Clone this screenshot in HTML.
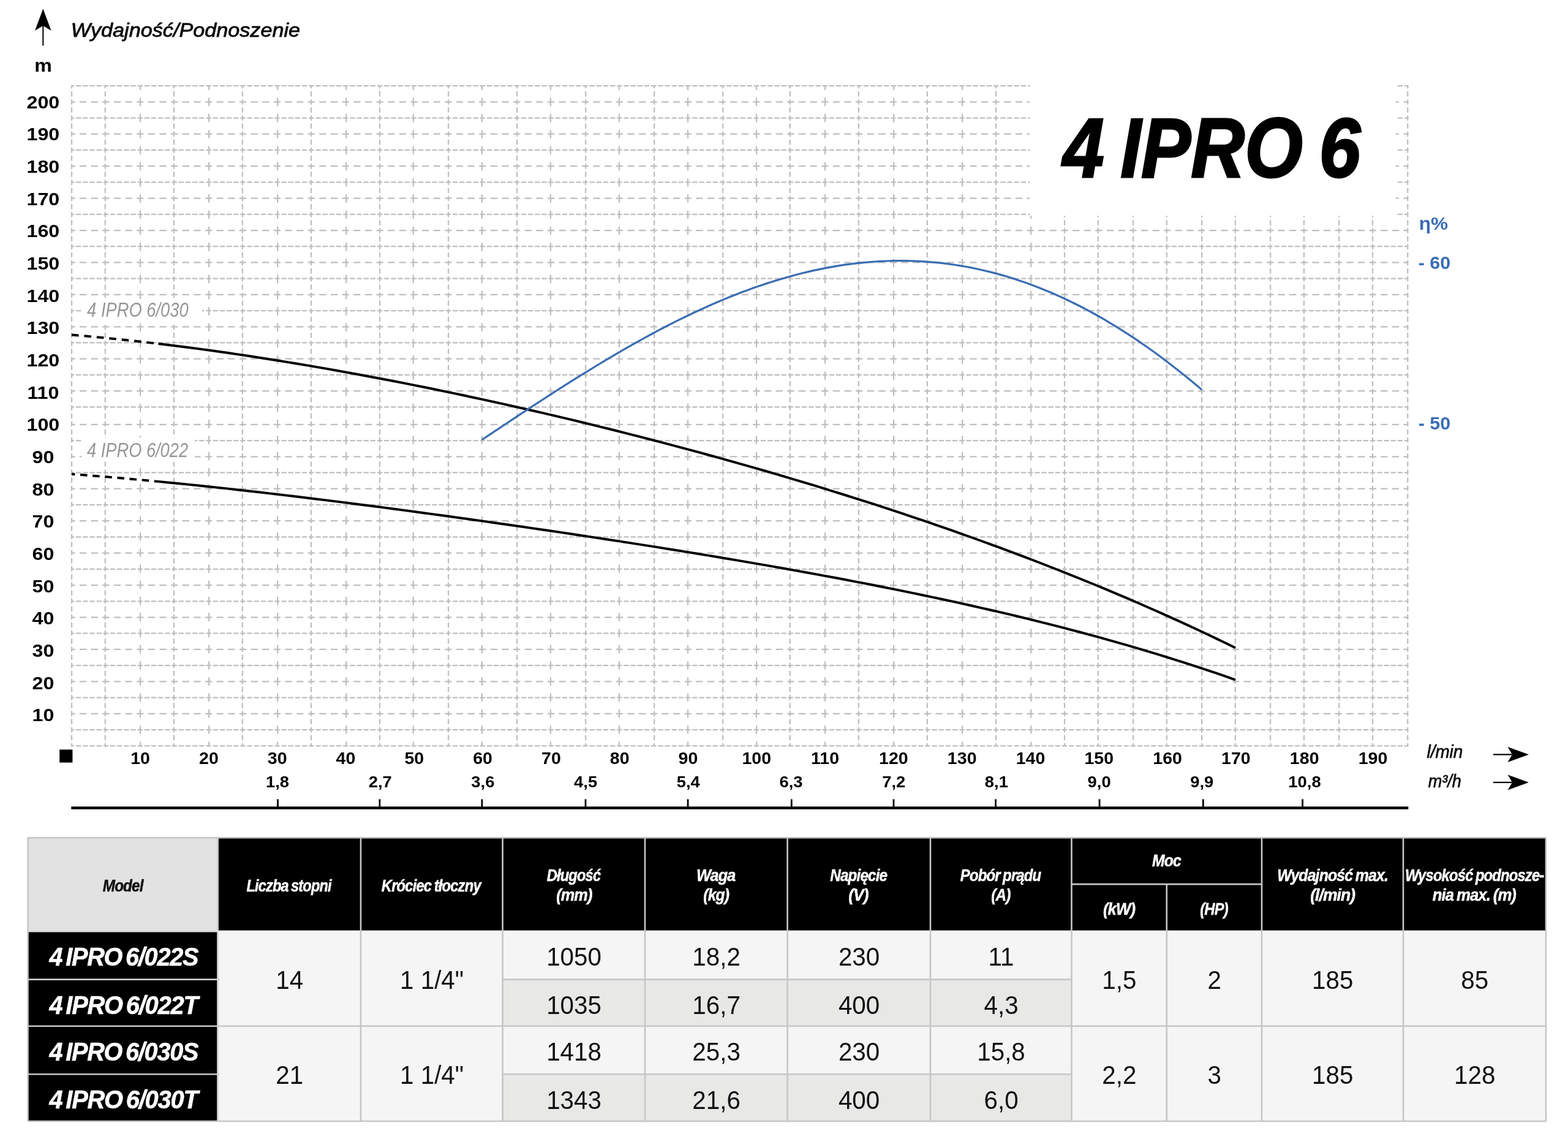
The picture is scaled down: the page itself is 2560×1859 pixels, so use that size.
<!DOCTYPE html>
<html lang="pl"><head><meta charset="utf-8"><title>4 IPRO 6</title>
<style>
html,body{margin:0;padding:0;background:#fff;}
body{width:2560px;height:1859px;overflow:hidden;}
svg{display:block;}
text{font-family:"Liberation Sans",sans-serif;white-space:pre;}
.b{font-weight:bold;} .i{font-style:italic;} .bi{font-weight:bold;font-style:italic;}
</style></head><body>
<svg width="2560" height="1859" viewBox="0 0 2560 1859">
<rect width="2560" height="1859" fill="#fff"/>
<g stroke="#bebebe" stroke-width="2.25" fill="none">
<line x1="116.03" y1="1217.30" x2="2299.27" y2="1217.30" stroke-dasharray="8.300 2.880" stroke-dashoffset="3.180"/>
<line x1="116.03" y1="1191.08" x2="2299.27" y2="1191.08" stroke-dasharray="8.300 2.880" stroke-dashoffset="3.180"/>
<line x1="116.03" y1="1164.85" x2="2299.27" y2="1164.85" stroke-dasharray="11.300 7.333" stroke-dashoffset="4.680"/>
<line x1="116.03" y1="1138.62" x2="2299.27" y2="1138.62" stroke-dasharray="8.300 2.880" stroke-dashoffset="3.180"/>
<line x1="116.03" y1="1112.40" x2="2299.27" y2="1112.40" stroke-dasharray="11.300 7.333" stroke-dashoffset="4.680"/>
<line x1="116.03" y1="1086.17" x2="2299.27" y2="1086.17" stroke-dasharray="8.300 2.880" stroke-dashoffset="3.180"/>
<line x1="116.03" y1="1059.95" x2="2299.27" y2="1059.95" stroke-dasharray="11.300 7.333" stroke-dashoffset="4.680"/>
<line x1="116.03" y1="1033.72" x2="2299.27" y2="1033.72" stroke-dasharray="8.300 2.880" stroke-dashoffset="3.180"/>
<line x1="116.03" y1="1007.50" x2="2299.27" y2="1007.50" stroke-dasharray="11.300 7.333" stroke-dashoffset="4.680"/>
<line x1="116.03" y1="981.27" x2="2299.27" y2="981.27" stroke-dasharray="8.300 2.880" stroke-dashoffset="3.180"/>
<line x1="116.03" y1="955.05" x2="2299.27" y2="955.05" stroke-dasharray="11.300 7.333" stroke-dashoffset="4.680"/>
<line x1="116.03" y1="928.82" x2="2299.27" y2="928.82" stroke-dasharray="8.300 2.880" stroke-dashoffset="3.180"/>
<line x1="116.03" y1="902.60" x2="2299.27" y2="902.60" stroke-dasharray="11.300 7.333" stroke-dashoffset="4.680"/>
<line x1="116.03" y1="876.38" x2="2299.27" y2="876.38" stroke-dasharray="8.300 2.880" stroke-dashoffset="3.180"/>
<line x1="116.03" y1="850.15" x2="2299.27" y2="850.15" stroke-dasharray="11.300 7.333" stroke-dashoffset="4.680"/>
<line x1="116.03" y1="823.92" x2="2299.27" y2="823.92" stroke-dasharray="8.300 2.880" stroke-dashoffset="3.180"/>
<line x1="116.03" y1="797.70" x2="2299.27" y2="797.70" stroke-dasharray="11.300 7.333" stroke-dashoffset="4.680"/>
<line x1="116.03" y1="771.47" x2="2299.27" y2="771.47" stroke-dasharray="8.300 2.880" stroke-dashoffset="3.180"/>
<line x1="116.03" y1="745.25" x2="2299.27" y2="745.25" stroke-dasharray="11.300 7.333" stroke-dashoffset="4.680"/>
<line x1="116.03" y1="719.02" x2="2299.27" y2="719.02" stroke-dasharray="8.300 2.880" stroke-dashoffset="3.180"/>
<line x1="116.03" y1="692.80" x2="2299.27" y2="692.80" stroke-dasharray="11.300 7.333" stroke-dashoffset="4.680"/>
<line x1="116.03" y1="664.34" x2="2299.27" y2="664.34" stroke-dasharray="8.300 2.880" stroke-dashoffset="3.180"/>
<line x1="116.03" y1="638.13" x2="2299.27" y2="638.13" stroke-dasharray="11.300 7.333" stroke-dashoffset="4.680"/>
<line x1="116.03" y1="611.92" x2="2299.27" y2="611.92" stroke-dasharray="8.300 2.880" stroke-dashoffset="3.180"/>
<line x1="116.03" y1="585.70" x2="2299.27" y2="585.70" stroke-dasharray="11.300 7.333" stroke-dashoffset="4.680"/>
<line x1="116.03" y1="559.49" x2="2299.27" y2="559.49" stroke-dasharray="8.300 2.880" stroke-dashoffset="3.180"/>
<line x1="116.03" y1="533.28" x2="2299.27" y2="533.28" stroke-dasharray="11.300 7.333" stroke-dashoffset="4.680"/>
<line x1="116.03" y1="507.07" x2="2299.27" y2="507.07" stroke-dasharray="8.300 2.880" stroke-dashoffset="3.180"/>
<line x1="116.03" y1="480.86" x2="2299.27" y2="480.86" stroke-dasharray="11.300 7.333" stroke-dashoffset="4.680"/>
<line x1="116.03" y1="454.64" x2="2299.27" y2="454.64" stroke-dasharray="8.300 2.880" stroke-dashoffset="3.180"/>
<line x1="116.03" y1="428.43" x2="2299.27" y2="428.43" stroke-dasharray="11.300 7.333" stroke-dashoffset="4.680"/>
<line x1="116.03" y1="402.22" x2="2299.27" y2="402.22" stroke-dasharray="8.300 2.880" stroke-dashoffset="3.180"/>
<line x1="116.03" y1="376.01" x2="2299.27" y2="376.01" stroke-dasharray="11.300 7.333" stroke-dashoffset="4.680"/>
<line x1="116.03" y1="349.80" x2="2299.27" y2="349.80" stroke-dasharray="8.300 2.880" stroke-dashoffset="3.180"/>
<line x1="116.03" y1="323.58" x2="2299.27" y2="323.58" stroke-dasharray="11.300 7.333" stroke-dashoffset="4.680"/>
<line x1="116.03" y1="297.37" x2="2299.27" y2="297.37" stroke-dasharray="8.300 2.880" stroke-dashoffset="3.180"/>
<line x1="116.03" y1="271.16" x2="2299.27" y2="271.16" stroke-dasharray="11.300 7.333" stroke-dashoffset="4.680"/>
<line x1="116.03" y1="244.95" x2="2299.27" y2="244.95" stroke-dasharray="8.300 2.880" stroke-dashoffset="3.180"/>
<line x1="116.03" y1="218.74" x2="2299.27" y2="218.74" stroke-dasharray="11.300 7.333" stroke-dashoffset="4.680"/>
<line x1="116.03" y1="192.52" x2="2299.27" y2="192.52" stroke-dasharray="8.300 2.880" stroke-dashoffset="3.180"/>
<line x1="116.03" y1="166.31" x2="2299.27" y2="166.31" stroke-dasharray="11.300 7.333" stroke-dashoffset="4.680"/>
<line x1="116.03" y1="140.10" x2="2299.27" y2="140.10" stroke-dasharray="8.300 2.880" stroke-dashoffset="3.180"/>
<line x1="117.03" y1="139.10" x2="117.03" y2="1218.30" stroke-dasharray="8.500 4.636" stroke-dashoffset="3.243"/>
<line x1="171.81" y1="139.10" x2="171.81" y2="1218.30" stroke-dasharray="8.500 4.636" stroke-dashoffset="3.243"/>
<line x1="229.08" y1="139.10" x2="229.08" y2="1218.30" stroke-dasharray="13.600 12.673" stroke-dashoffset="5.793"/>
<line x1="283.86" y1="139.10" x2="283.86" y2="1218.30" stroke-dasharray="8.500 4.636" stroke-dashoffset="3.243"/>
<line x1="341.13" y1="139.10" x2="341.13" y2="1218.30" stroke-dasharray="13.600 12.673" stroke-dashoffset="5.793"/>
<line x1="395.91" y1="139.10" x2="395.91" y2="1218.30" stroke-dasharray="8.500 4.636" stroke-dashoffset="3.243"/>
<line x1="453.18" y1="139.10" x2="453.18" y2="1218.30" stroke-dasharray="13.600 12.673" stroke-dashoffset="5.793"/>
<line x1="507.96" y1="139.10" x2="507.96" y2="1218.30" stroke-dasharray="8.500 4.636" stroke-dashoffset="3.243"/>
<line x1="565.23" y1="139.10" x2="565.23" y2="1218.30" stroke-dasharray="13.600 12.673" stroke-dashoffset="5.793"/>
<line x1="620.01" y1="139.10" x2="620.01" y2="1218.30" stroke-dasharray="8.500 4.636" stroke-dashoffset="3.243"/>
<line x1="674.79" y1="139.10" x2="674.79" y2="1218.30" stroke-dasharray="13.600 12.673" stroke-dashoffset="5.793"/>
<line x1="732.06" y1="139.10" x2="732.06" y2="1218.30" stroke-dasharray="8.500 4.636" stroke-dashoffset="3.243"/>
<line x1="786.84" y1="139.10" x2="786.84" y2="1218.30" stroke-dasharray="13.600 12.673" stroke-dashoffset="5.793"/>
<line x1="844.11" y1="139.10" x2="844.11" y2="1218.30" stroke-dasharray="8.500 4.636" stroke-dashoffset="3.243"/>
<line x1="898.89" y1="139.10" x2="898.89" y2="1218.30" stroke-dasharray="13.600 12.673" stroke-dashoffset="5.793"/>
<line x1="956.16" y1="139.10" x2="956.16" y2="1218.30" stroke-dasharray="8.500 4.636" stroke-dashoffset="3.243"/>
<line x1="1010.94" y1="139.10" x2="1010.94" y2="1218.30" stroke-dasharray="13.600 12.673" stroke-dashoffset="5.793"/>
<line x1="1068.21" y1="139.10" x2="1068.21" y2="1218.30" stroke-dasharray="8.500 4.636" stroke-dashoffset="3.243"/>
<line x1="1122.99" y1="139.10" x2="1122.99" y2="1218.30" stroke-dasharray="13.600 12.673" stroke-dashoffset="5.793"/>
<line x1="1180.26" y1="139.10" x2="1180.26" y2="1218.30" stroke-dasharray="8.500 4.636" stroke-dashoffset="3.243"/>
<line x1="1235.04" y1="139.10" x2="1235.04" y2="1218.30" stroke-dasharray="13.600 12.673" stroke-dashoffset="5.793"/>
<line x1="1289.82" y1="139.10" x2="1289.82" y2="1218.30" stroke-dasharray="8.500 4.636" stroke-dashoffset="3.243"/>
<line x1="1347.09" y1="139.10" x2="1347.09" y2="1218.30" stroke-dasharray="13.600 12.673" stroke-dashoffset="5.793"/>
<line x1="1401.87" y1="139.10" x2="1401.87" y2="1218.30" stroke-dasharray="8.500 4.636" stroke-dashoffset="3.243"/>
<line x1="1459.14" y1="139.10" x2="1459.14" y2="1218.30" stroke-dasharray="13.600 12.673" stroke-dashoffset="5.793"/>
<line x1="1513.92" y1="139.10" x2="1513.92" y2="1218.30" stroke-dasharray="8.500 4.636" stroke-dashoffset="3.243"/>
<line x1="1571.19" y1="139.10" x2="1571.19" y2="1218.30" stroke-dasharray="13.600 12.673" stroke-dashoffset="5.793"/>
<line x1="1625.97" y1="139.10" x2="1625.97" y2="1218.30" stroke-dasharray="8.500 4.636" stroke-dashoffset="3.243"/>
<line x1="1683.24" y1="139.10" x2="1683.24" y2="1218.30" stroke-dasharray="13.600 12.673" stroke-dashoffset="5.793"/>
<line x1="1738.02" y1="139.10" x2="1738.02" y2="1218.30" stroke-dasharray="8.500 4.636" stroke-dashoffset="3.243"/>
<line x1="1792.80" y1="139.10" x2="1792.80" y2="1218.30" stroke-dasharray="8.500 4.636" stroke-dashoffset="3.243"/>
<line x1="1850.07" y1="139.10" x2="1850.07" y2="1218.30" stroke-dasharray="8.500 4.636" stroke-dashoffset="3.243"/>
<line x1="1904.85" y1="139.10" x2="1904.85" y2="1218.30" stroke-dasharray="8.500 4.636" stroke-dashoffset="3.243"/>
<line x1="1962.12" y1="139.10" x2="1962.12" y2="1218.30" stroke-dasharray="8.500 4.636" stroke-dashoffset="3.243"/>
<line x1="2016.90" y1="139.10" x2="2016.90" y2="1218.30" stroke-dasharray="8.500 4.636" stroke-dashoffset="3.243"/>
<line x1="2074.17" y1="139.10" x2="2074.17" y2="1218.30" stroke-dasharray="8.500 4.636" stroke-dashoffset="3.243"/>
<line x1="2128.95" y1="139.10" x2="2128.95" y2="1218.30" stroke-dasharray="8.500 4.636" stroke-dashoffset="3.243"/>
<line x1="2186.22" y1="139.10" x2="2186.22" y2="1218.30" stroke-dasharray="8.500 4.636" stroke-dashoffset="3.243"/>
<line x1="2241.00" y1="139.10" x2="2241.00" y2="1218.30" stroke-dasharray="8.500 4.636" stroke-dashoffset="3.243"/>
<line x1="2298.27" y1="139.10" x2="2298.27" y2="1218.30" stroke-dasharray="8.500 4.636" stroke-dashoffset="3.243"/>
</g>
<rect x="1681.4" y="130" width="597.4" height="222.2" fill="#fff"/>
<rect x="133.5" y="488.3" width="196.5" height="39.7" fill="#fff"/>
<rect x="133.5" y="714.5" width="184.5" height="39" fill="#fff"/>
<path d="M117.03,546.53 L133.00,547.91 L148.96,549.35 L164.93,550.86 L180.89,552.44 L196.86,554.08 L212.82,555.78 L228.79,557.55 L244.75,559.37 L258.50,561.00" fill="none" stroke="#000" stroke-width="3.95" stroke-dasharray="11.6 8.9"/>
<path d="M258.50,561.00 L260.72,561.26 L276.68,563.21 L292.65,565.21 L308.61,567.27 L324.58,569.39 L340.54,571.56 L356.51,573.79 L372.47,576.07 L388.44,578.40 L404.41,580.79 L420.37,583.22 L436.34,585.71 L452.30,588.25 L468.27,590.83 L484.23,593.47 L500.20,596.15 L516.16,598.87 L532.13,601.65 L548.09,604.47 L564.06,607.33 L580.02,610.24 L595.99,613.19 L611.95,616.19 L627.92,619.23 L643.88,622.31 L659.85,625.43 L675.82,628.60 L691.78,631.81 L707.75,635.06 L723.71,638.34 L739.68,641.67 L755.64,645.04 L771.61,648.45 L787.57,651.90 L803.54,655.39 L819.50,658.92 L835.47,662.48 L851.43,666.09 L867.40,669.73 L883.36,673.41 L899.33,677.14 L915.29,680.90 L931.26,684.70 L947.23,688.53 L963.19,692.41 L979.16,696.32 L995.12,700.28 L1011.09,704.27 L1027.05,708.30 L1043.02,712.37 L1058.98,716.49 L1074.95,720.64 L1090.91,724.83 L1106.88,729.06 L1122.84,733.33 L1138.81,737.64 L1154.77,741.99 L1170.74,746.39 L1186.70,750.83 L1202.67,755.30 L1218.64,759.83 L1234.60,764.39 L1250.57,769.00 L1266.53,773.65 L1282.50,778.35 L1298.46,783.09 L1314.43,787.88 L1330.39,792.72 L1346.36,797.60 L1362.32,802.53 L1378.29,807.51 L1394.25,812.54 L1410.22,817.61 L1426.18,822.74 L1442.15,827.92 L1458.11,833.15 L1474.08,838.44 L1490.05,843.78 L1506.01,849.17 L1521.98,854.62 L1537.94,860.13 L1553.91,865.69 L1569.87,871.31 L1585.84,877.00 L1601.80,882.74 L1617.77,888.54 L1633.73,894.41 L1649.70,900.34 L1665.66,906.34 L1681.63,912.40 L1697.59,918.53 L1713.56,924.73 L1729.52,930.99 L1745.49,937.33 L1761.46,943.74 L1777.42,950.23 L1793.39,956.78 L1809.35,963.42 L1825.32,970.13 L1841.28,976.92 L1857.25,983.80 L1873.21,990.75 L1889.18,997.79 L1905.14,1004.91 L1921.11,1012.12 L1937.07,1019.41 L1953.04,1026.80 L1969.00,1034.28 L1984.97,1041.85 L2000.93,1049.51 L2016.90,1057.27" fill="none" stroke="#000" stroke-width="3.95"/>
<path d="M117.03,773.83 L133.00,775.03 L148.96,776.27 L164.93,777.56 L180.89,778.89 L196.86,780.26 L212.82,781.67 L228.79,783.11 L244.75,784.60 L253.50,785.43" fill="none" stroke="#000" stroke-width="3.95" stroke-dasharray="11.6 8.6" stroke-dashoffset="6.2"/>
<path d="M253.50,785.43 L260.72,786.11 L276.68,787.67 L292.65,789.25 L308.61,790.87 L324.58,792.52 L340.54,794.20 L356.51,795.91 L372.47,797.65 L388.44,799.42 L404.41,801.21 L420.37,803.03 L436.34,804.87 L452.30,806.73 L468.27,808.62 L484.23,810.53 L500.20,812.47 L516.16,814.42 L532.13,816.40 L548.09,818.39 L564.06,820.41 L580.02,822.44 L595.99,824.49 L611.95,826.56 L627.92,828.65 L643.88,830.76 L659.85,832.88 L675.82,835.01 L691.78,837.17 L707.75,839.34 L723.71,841.52 L739.68,843.72 L755.64,845.94 L771.61,848.17 L787.57,850.41 L803.54,852.67 L819.50,854.95 L835.47,857.23 L851.43,859.54 L867.40,861.86 L883.36,864.19 L899.33,866.54 L915.29,868.90 L931.26,871.28 L947.23,873.68 L963.19,876.09 L979.16,878.51 L995.12,880.95 L1011.09,883.41 L1027.05,885.89 L1043.02,888.38 L1058.98,890.89 L1074.95,893.42 L1090.91,895.97 L1106.88,898.54 L1122.84,901.13 L1138.81,903.73 L1154.77,906.36 L1170.74,909.01 L1186.70,911.69 L1202.67,914.38 L1218.64,917.10 L1234.60,919.85 L1250.57,922.62 L1266.53,925.42 L1282.50,928.24 L1298.46,931.09 L1314.43,933.97 L1330.39,936.88 L1346.36,939.83 L1362.32,942.80 L1378.29,945.81 L1394.25,948.85 L1410.22,951.93 L1426.18,955.04 L1442.15,958.19 L1458.11,961.38 L1474.08,964.61 L1490.05,967.88 L1506.01,971.20 L1521.98,974.56 L1537.94,977.96 L1553.91,981.41 L1569.87,984.92 L1585.84,988.47 L1601.80,992.07 L1617.77,995.72 L1633.73,999.43 L1649.70,1003.20 L1665.66,1007.02 L1681.63,1010.91 L1697.59,1014.85 L1713.56,1018.86 L1729.52,1022.93 L1745.49,1027.07 L1761.46,1031.28 L1777.42,1035.56 L1793.39,1039.91 L1809.35,1044.33 L1825.32,1048.84 L1841.28,1053.41 L1857.25,1058.07 L1873.21,1062.82 L1889.18,1067.64 L1905.14,1072.55 L1921.11,1077.56 L1937.07,1082.65 L1953.04,1087.83 L1969.00,1093.11 L1984.97,1098.49 L2000.93,1103.97 L2016.90,1109.55" fill="none" stroke="#000" stroke-width="3.95"/>
<path d="M786.84,717.79 L796.72,711.20 L806.59,704.62 L816.47,698.05 L826.35,691.48 L836.22,684.93 L846.10,678.40 L855.97,671.88 L865.85,665.39 L875.73,658.93 L885.60,652.50 L895.48,646.10 L905.36,639.74 L915.23,633.41 L925.11,627.14 L934.98,620.90 L944.86,614.72 L954.74,608.59 L964.61,602.52 L974.49,596.50 L984.37,590.55 L994.24,584.66 L1004.12,578.84 L1013.99,573.08 L1023.87,567.41 L1033.75,561.80 L1043.62,556.28 L1053.50,550.84 L1063.38,545.48 L1073.25,540.21 L1083.13,535.02 L1093.01,529.93 L1102.88,524.93 L1112.76,520.03 L1122.63,515.23 L1132.51,510.53 L1142.39,505.93 L1152.26,501.44 L1162.14,497.06 L1172.02,492.79 L1181.89,488.63 L1191.77,484.59 L1201.64,480.66 L1211.52,476.85 L1221.40,473.17 L1231.27,469.61 L1241.15,466.17 L1251.03,462.86 L1260.90,459.68 L1270.78,456.63 L1280.66,453.71 L1290.53,450.92 L1300.41,448.28 L1310.28,445.77 L1320.16,443.40 L1330.04,441.17 L1339.91,439.09 L1349.79,437.14 L1359.67,435.35 L1369.54,433.70 L1379.42,432.20 L1389.29,430.85 L1399.17,429.65 L1409.05,428.61 L1418.92,427.72 L1428.80,426.98 L1438.68,426.40 L1448.55,425.98 L1458.43,425.72 L1468.30,425.62 L1478.18,425.67 L1488.06,425.89 L1497.93,426.28 L1507.81,426.82 L1517.69,427.53 L1527.56,428.41 L1537.44,429.45 L1547.32,430.66 L1557.19,432.04 L1567.07,433.58 L1576.94,435.29 L1586.82,437.18 L1596.70,439.23 L1606.57,441.46 L1616.45,443.85 L1626.33,446.42 L1636.20,449.16 L1646.08,452.07 L1655.95,455.15 L1665.83,458.41 L1675.71,461.84 L1685.58,465.44 L1695.46,469.22 L1705.34,473.17 L1715.21,477.29 L1725.09,481.59 L1734.97,486.06 L1744.84,490.70 L1754.72,495.52 L1764.59,500.51 L1774.47,505.67 L1784.35,511.01 L1794.22,516.52 L1804.10,522.20 L1813.98,528.06 L1823.85,534.08 L1833.73,540.28 L1843.60,546.65 L1853.48,553.18 L1863.36,559.89 L1873.23,566.77 L1883.11,573.81 L1892.99,581.03 L1902.86,588.41 L1912.74,595.95 L1922.61,603.66 L1932.49,611.54 L1942.37,619.58 L1952.24,627.78 L1962.12,636.15" fill="none" stroke="#3a6db3" stroke-width="3.2"/>
<path d="M70.3,14.5 L83.6,50 L70.3,42 L57,50 Z" fill="#000"/>
<rect x="69.3" y="40" width="2" height="34.5" fill="#000"/>
<text transform="matrix(1.0781 0 0 1 115.74 60.10)" font-size="31.71" class="i" fill="#0a0a0a" stroke="#0a0a0a" stroke-width="0.80" stroke-linejoin="miter" stroke-miterlimit="3">Wydajność/Podnoszenie</text>
<text transform="matrix(1.1006 0 0 1 56.21 117.00)" font-size="29.19" class="b" fill="#000">m</text>
<text transform="matrix(1.0700 0 0 1 52.48 1177.33)" font-size="30.11" class="b" fill="#000">10</text>
<text transform="matrix(1.0700 0 0 1 52.48 1124.66)" font-size="30.11" class="b" fill="#000">20</text>
<text transform="matrix(1.0700 0 0 1 52.48 1071.99)" font-size="30.11" class="b" fill="#000">30</text>
<text transform="matrix(1.0700 0 0 1 52.48 1019.32)" font-size="30.11" class="b" fill="#000">40</text>
<text transform="matrix(1.0700 0 0 1 52.48 966.65)" font-size="30.11" class="b" fill="#000">50</text>
<text transform="matrix(1.0700 0 0 1 52.48 913.98)" font-size="30.11" class="b" fill="#000">60</text>
<text transform="matrix(1.0700 0 0 1 52.48 861.31)" font-size="30.11" class="b" fill="#000">70</text>
<text transform="matrix(1.0700 0 0 1 52.48 808.64)" font-size="30.11" class="b" fill="#000">80</text>
<text transform="matrix(1.0700 0 0 1 52.48 755.97)" font-size="30.11" class="b" fill="#000">90</text>
<text transform="matrix(1.0700 0 0 1 43.52 703.30)" font-size="30.11" class="b" fill="#000">100</text>
<text transform="matrix(1.0700 0 0 1 44.41 650.63)" font-size="30.11" class="b" fill="#000">110</text>
<text transform="matrix(1.0700 0 0 1 43.52 597.96)" font-size="30.11" class="b" fill="#000">120</text>
<text transform="matrix(1.0700 0 0 1 43.52 545.29)" font-size="30.11" class="b" fill="#000">130</text>
<text transform="matrix(1.0700 0 0 1 43.52 492.62)" font-size="30.11" class="b" fill="#000">140</text>
<text transform="matrix(1.0700 0 0 1 43.52 439.95)" font-size="30.11" class="b" fill="#000">150</text>
<text transform="matrix(1.0700 0 0 1 43.52 387.28)" font-size="30.11" class="b" fill="#000">160</text>
<text transform="matrix(1.0700 0 0 1 43.52 334.61)" font-size="30.11" class="b" fill="#000">170</text>
<text transform="matrix(1.0700 0 0 1 43.52 281.94)" font-size="30.11" class="b" fill="#000">180</text>
<text transform="matrix(1.0700 0 0 1 43.52 229.27)" font-size="30.11" class="b" fill="#000">190</text>
<text transform="matrix(1.0700 0 0 1 43.52 176.60)" font-size="30.11" class="b" fill="#000">200</text>
<text transform="matrix(1.0600 0 0 1 213.21 1247.00)" font-size="26.95" class="b" fill="#000">10</text>
<text transform="matrix(1.0600 0 0 1 325.01 1247.00)" font-size="26.95" class="b" fill="#000">20</text>
<text transform="matrix(1.0600 0 0 1 436.81 1247.00)" font-size="26.95" class="b" fill="#000">30</text>
<text transform="matrix(1.0600 0 0 1 548.61 1247.00)" font-size="26.95" class="b" fill="#000">40</text>
<text transform="matrix(1.0600 0 0 1 660.41 1247.00)" font-size="26.95" class="b" fill="#000">50</text>
<text transform="matrix(1.0600 0 0 1 772.21 1247.00)" font-size="26.95" class="b" fill="#000">60</text>
<text transform="matrix(1.0600 0 0 1 884.01 1247.00)" font-size="26.95" class="b" fill="#000">70</text>
<text transform="matrix(1.0600 0 0 1 995.81 1247.00)" font-size="26.95" class="b" fill="#000">80</text>
<text transform="matrix(1.0600 0 0 1 1107.61 1247.00)" font-size="26.95" class="b" fill="#000">90</text>
<text transform="matrix(1.0600 0 0 1 1211.46 1247.00)" font-size="26.95" class="b" fill="#000">100</text>
<text transform="matrix(1.0600 0 0 1 1324.05 1247.00)" font-size="26.95" class="b" fill="#000">110</text>
<text transform="matrix(1.0600 0 0 1 1435.06 1247.00)" font-size="26.95" class="b" fill="#000">120</text>
<text transform="matrix(1.0600 0 0 1 1546.86 1247.00)" font-size="26.95" class="b" fill="#000">130</text>
<text transform="matrix(1.0600 0 0 1 1658.66 1247.00)" font-size="26.95" class="b" fill="#000">140</text>
<text transform="matrix(1.0600 0 0 1 1770.46 1247.00)" font-size="26.95" class="b" fill="#000">150</text>
<text transform="matrix(1.0600 0 0 1 1882.26 1247.00)" font-size="26.95" class="b" fill="#000">160</text>
<text transform="matrix(1.0600 0 0 1 1994.06 1247.00)" font-size="26.95" class="b" fill="#000">170</text>
<text transform="matrix(1.0600 0 0 1 2105.86 1247.00)" font-size="26.95" class="b" fill="#000">180</text>
<text transform="matrix(1.0600 0 0 1 2217.66 1247.00)" font-size="26.95" class="b" fill="#000">190</text>
<text transform="matrix(1.0270 0 0 1 433.96 1285.20)" font-size="26.67" class="b" fill="#000">1,8</text>
<rect x="452.1" y="1304.4" width="2.8" height="13" fill="#000"/>
<text transform="matrix(1.0270 0 0 1 601.66 1285.20)" font-size="26.67" class="b" fill="#000">2,7</text>
<rect x="618.5" y="1304.4" width="2.8" height="13" fill="#000"/>
<text transform="matrix(1.0270 0 0 1 769.36 1285.20)" font-size="26.67" class="b" fill="#000">3,6</text>
<rect x="785.5" y="1304.4" width="2.8" height="13" fill="#000"/>
<text transform="matrix(1.0270 0 0 1 937.06 1285.20)" font-size="26.67" class="b" fill="#000">4,5</text>
<rect x="954.6" y="1304.4" width="2.8" height="13" fill="#000"/>
<text transform="matrix(1.0270 0 0 1 1104.76 1285.20)" font-size="26.67" class="b" fill="#000">5,4</text>
<rect x="1121.7" y="1304.4" width="2.8" height="13" fill="#000"/>
<text transform="matrix(1.0270 0 0 1 1272.46 1285.20)" font-size="26.67" class="b" fill="#000">6,3</text>
<rect x="1290.9" y="1304.4" width="2.8" height="13" fill="#000"/>
<text transform="matrix(1.0270 0 0 1 1440.16 1285.20)" font-size="26.67" class="b" fill="#000">7,2</text>
<rect x="1457.6" y="1304.4" width="2.8" height="13" fill="#000"/>
<text transform="matrix(1.0270 0 0 1 1607.86 1285.20)" font-size="26.67" class="b" fill="#000">8,1</text>
<rect x="1624.2" y="1304.4" width="2.8" height="13" fill="#000"/>
<text transform="matrix(1.0270 0 0 1 1775.56 1285.20)" font-size="26.67" class="b" fill="#000">9,0</text>
<rect x="1793.7" y="1304.4" width="2.8" height="13" fill="#000"/>
<text transform="matrix(1.0270 0 0 1 1943.26 1285.20)" font-size="26.67" class="b" fill="#000">9,9</text>
<rect x="1962.9" y="1304.4" width="2.8" height="13" fill="#000"/>
<text transform="matrix(1.0270 0 0 1 2103.35 1285.20)" font-size="26.67" class="b" fill="#000">10,8</text>
<rect x="2125.2" y="1304.4" width="2.8" height="13" fill="#000"/>
<rect x="116.3" y="1316.4" width="2183" height="4.5" fill="#000"/>
<rect x="97.2" y="1223.4" width="21.2" height="21.2" fill="#000"/>
<text transform="matrix(0.9649 0 0 1 2329.52 1237.15)" font-size="28.83" class="i" fill="#0a0a0a" stroke="#0a0a0a" stroke-width="0.70" stroke-linejoin="miter" stroke-miterlimit="3">l/min</text>
<text transform="matrix(0.9198 0 0 1 2331.85 1285.15)" font-size="29.38" class="i" fill="#0a0a0a" stroke="#0a0a0a" stroke-width="0.70" stroke-linejoin="miter" stroke-miterlimit="3">m³/h</text>
<rect x="2437.8" y="1230.4" width="31" height="2.2" fill="#000"/>
<path d="M2496,1231.5 L2461.5,1218.9 L2469,1231.5 L2461.5,1244.1 Z" fill="#000"/>
<rect x="2437.8" y="1275.9" width="31" height="2.2" fill="#000"/>
<path d="M2496,1277 L2461.5,1264.4 L2469,1277 L2461.5,1289.6 Z" fill="#000"/>
<text transform="matrix(1.0502 0 0 1 2316.64 375.10)" font-size="30.11" class="b" fill="#3a6db3">η%</text>
<text transform="matrix(1.0111 0 0 1 2315.78 438.60)" font-size="30.11" class="b" fill="#3a6db3">- 60</text>
<text transform="matrix(1.0111 0 0 1 2315.78 701.40)" font-size="30.11" class="b" fill="#3a6db3">- 50</text>
<text transform="matrix(0.8861 0 0 1 1734.96 289.00)" font-size="137.45" class="bi" fill="#000" stroke="#000" stroke-width="3.00" stroke-linejoin="miter" stroke-miterlimit="3" word-spacing="-8.25">4 IPRO 6</text>
<text transform="matrix(0.8312 0 0 1 142.10 517.30)" font-size="32.87" class="i" fill="#969696">4 IPRO 6/030</text>
<text transform="matrix(0.8283 0 0 1 142.10 746.40)" font-size="32.87" class="i" fill="#969696">4 IPRO 6/022</text>
<rect x="45.5" y="1367.3" width="310.2" height="151.70000000000005" fill="#e2e2e2"/>
<rect x="355.7" y="1367.3" width="2168.3" height="151.30000000000004" fill="#000"/>
<rect x="45.5" y="1521.2" width="309.0" height="308.8" fill="#000"/>
<rect x="355.7" y="1519" width="2168.3" height="311" fill="#f5f5f5"/>
<rect x="820.6" y="1598.6" width="928.9" height="76.20000000000005" fill="#e8e8e7"/>
<rect x="820.6" y="1753.3" width="928.9" height="76.70000000000005" fill="#e8e8e7"/>
<g stroke="#c6c6c6" stroke-width="2.6" fill="none">
<line x1="45.5" y1="1367.3" x2="2524.0" y2="1367.3"/>
<line x1="45.5" y1="1519.9" x2="355.7" y2="1519.9" stroke="#dcdcdc"/>
<line x1="45.5" y1="1830.0" x2="2524.0" y2="1830.0"/>
<line x1="45.5" y1="1674.8" x2="2524.0" y2="1674.8"/>
<line x1="45.5" y1="1598.6" x2="358.7" y2="1598.6"/>
<line x1="820.6" y1="1598.6" x2="1749.5" y2="1598.6"/>
<line x1="45.5" y1="1753.3" x2="358.7" y2="1753.3"/>
<line x1="820.6" y1="1753.3" x2="1749.5" y2="1753.3"/>
<line x1="45.5" y1="1367.3" x2="45.5" y2="1830.0"/>
<line x1="355.7" y1="1367.3" x2="355.7" y2="1519.0"/>
<line x1="355.7" y1="1519" x2="355.7" y2="1830" stroke="#d6d6d6"/>
<line x1="589.0" y1="1367.3" x2="589.0" y2="1830.0"/>
<line x1="820.6" y1="1367.3" x2="820.6" y2="1830.0"/>
<line x1="1053.0" y1="1367.3" x2="1053.0" y2="1830.0"/>
<line x1="1285.6" y1="1367.3" x2="1285.6" y2="1830.0"/>
<line x1="1519.0" y1="1367.3" x2="1519.0" y2="1830.0"/>
<line x1="1749.5" y1="1367.3" x2="1749.5" y2="1830.0"/>
<line x1="1904.8" y1="1443.1" x2="1904.8" y2="1830.0"/>
<line x1="2060.0" y1="1367.3" x2="2060.0" y2="1830.0"/>
<line x1="2291.0" y1="1367.3" x2="2291.0" y2="1830.0"/>
<line x1="2524.0" y1="1367.3" x2="2524.0" y2="1830.0"/>
<line x1="1749.5" y1="1443.1" x2="2060.0" y2="1443.1"/>
</g>
<text transform="matrix(0.8919 0 0 1 167.80 1454.65)" font-size="27.20" class="bi" fill="#111" stroke="#111" stroke-width="0.50" stroke-linejoin="miter" stroke-miterlimit="3" word-spacing="-1.63" letter-spacing="-0.95">Model</text>
<text transform="matrix(0.8657 0 0 1 402.50 1454.65)" font-size="27.20" class="bi" fill="#fff" stroke="#fff" stroke-width="0.50" stroke-linejoin="miter" stroke-miterlimit="3" word-spacing="-1.63" letter-spacing="-0.95">Liczba stopni</text>
<text transform="matrix(0.8754 0 0 1 622.80 1454.65)" font-size="27.20" class="bi" fill="#fff" stroke="#fff" stroke-width="0.50" stroke-linejoin="miter" stroke-miterlimit="3" word-spacing="-1.63" letter-spacing="-0.95">Króciec tłoczny</text>
<text transform="matrix(0.8705 0 0 1 892.70 1438.35)" font-size="27.20" class="bi" fill="#fff" stroke="#fff" stroke-width="0.50" stroke-linejoin="miter" stroke-miterlimit="3" word-spacing="-1.63" letter-spacing="-0.95">Długość</text>
<text transform="matrix(0.9304 0 0 1 908.15 1469.85)" font-size="27.20" class="bi" fill="#fff" stroke="#fff" stroke-width="0.50" stroke-linejoin="miter" stroke-miterlimit="3" word-spacing="-1.63" letter-spacing="-0.95">(mm)</text>
<text transform="matrix(0.9292 0 0 1 1137.00 1438.35)" font-size="27.20" class="bi" fill="#fff" stroke="#fff" stroke-width="0.50" stroke-linejoin="miter" stroke-miterlimit="3" word-spacing="-1.63" letter-spacing="-0.95">Waga</text>
<text transform="matrix(0.9107 0 0 1 1148.26 1469.85)" font-size="27.20" class="bi" fill="#fff" stroke="#fff" stroke-width="0.50" stroke-linejoin="miter" stroke-miterlimit="3" word-spacing="-1.63" letter-spacing="-0.95">(kg)</text>
<text transform="matrix(0.8902 0 0 1 1355.30 1438.35)" font-size="27.20" class="bi" fill="#fff" stroke="#fff" stroke-width="0.50" stroke-linejoin="miter" stroke-miterlimit="3" word-spacing="-1.63" letter-spacing="-0.95">Napięcie</text>
<text transform="matrix(0.9716 0 0 1 1385.22 1469.85)" font-size="27.20" class="bi" fill="#fff" stroke="#fff" stroke-width="0.50" stroke-linejoin="miter" stroke-miterlimit="3" word-spacing="-1.63" letter-spacing="-0.95">(V)</text>
<text transform="matrix(0.8798 0 0 1 1567.80 1438.35)" font-size="27.20" class="bi" fill="#fff" stroke="#fff" stroke-width="0.50" stroke-linejoin="miter" stroke-miterlimit="3" word-spacing="-1.63" letter-spacing="-0.95">Pobór prądu</text>
<text transform="matrix(0.8950 0 0 1 1618.37 1469.85)" font-size="27.20" class="bi" fill="#fff" stroke="#fff" stroke-width="0.50" stroke-linejoin="miter" stroke-miterlimit="3" word-spacing="-1.63" letter-spacing="-0.95">(A)</text>
<text transform="matrix(0.9084 0 0 1 1881.09 1414.45)" font-size="27.20" class="bi" fill="#fff" stroke="#fff" stroke-width="0.50" stroke-linejoin="miter" stroke-miterlimit="3" word-spacing="-1.63" letter-spacing="-0.95">Moc</text>
<text transform="matrix(0.9484 0 0 1 1800.93 1493.35)" font-size="27.20" class="bi" fill="#fff" stroke="#fff" stroke-width="0.50" stroke-linejoin="miter" stroke-miterlimit="3" word-spacing="-1.63" letter-spacing="-0.95">(kW)</text>
<text transform="matrix(0.8777 0 0 1 1959.18 1493.35)" font-size="27.20" class="bi" fill="#fff" stroke="#fff" stroke-width="0.50" stroke-linejoin="miter" stroke-miterlimit="3" word-spacing="-1.63" letter-spacing="-0.95">(HP)</text>
<text transform="matrix(0.9146 0 0 1 2085.23 1438.35)" font-size="27.20" class="bi" fill="#fff" stroke="#fff" stroke-width="0.50" stroke-linejoin="miter" stroke-miterlimit="3" word-spacing="-1.63" letter-spacing="-0.95">Wydajność max.</text>
<text transform="matrix(0.9747 0 0 1 2139.22 1469.85)" font-size="27.20" class="bi" fill="#fff" stroke="#fff" stroke-width="0.50" stroke-linejoin="miter" stroke-miterlimit="3" word-spacing="-1.63" letter-spacing="-0.95">(l/min)</text>
<text transform="matrix(0.8760 0 0 1 2293.89 1438.35)" font-size="27.20" class="bi" fill="#fff" stroke="#fff" stroke-width="0.50" stroke-linejoin="miter" stroke-miterlimit="3" word-spacing="-1.63" letter-spacing="-0.95">Wysokość podnosze-</text>
<text transform="matrix(0.9463 0 0 1 2338.79 1469.85)" font-size="27.20" class="bi" fill="#fff" stroke="#fff" stroke-width="0.50" stroke-linejoin="miter" stroke-miterlimit="3" word-spacing="-1.63" letter-spacing="-0.95">nia max. (m)</text>
<text transform="matrix(0.9413 0 0 1 80.47 1575.60)" font-size="42.04" class="bi" fill="#fff" stroke="#fff" stroke-width="0.60" stroke-linejoin="miter" stroke-miterlimit="3" word-spacing="-4.20" letter-spacing="-1.26">4 IPRO 6/022S</text>
<text transform="matrix(0.9471 0 0 1 80.48 1654.80)" font-size="42.04" class="bi" fill="#fff" stroke="#fff" stroke-width="0.60" stroke-linejoin="miter" stroke-miterlimit="3" word-spacing="-4.20" letter-spacing="-1.26">4 IPRO 6/022T</text>
<text transform="matrix(0.9413 0 0 1 80.47 1730.60)" font-size="42.04" class="bi" fill="#fff" stroke="#fff" stroke-width="0.60" stroke-linejoin="miter" stroke-miterlimit="3" word-spacing="-4.20" letter-spacing="-1.26">4 IPRO 6/030S</text>
<text transform="matrix(0.9471 0 0 1 80.48 1809.30)" font-size="42.04" class="bi" fill="#fff" stroke="#fff" stroke-width="0.60" stroke-linejoin="miter" stroke-miterlimit="3" word-spacing="-4.20" letter-spacing="-1.26">4 IPRO 6/030T</text>
<text transform="matrix(0.9650 0 0 1 892.16 1576.30)" font-size="41.86" class="r" fill="#111">1050</text>
<text transform="matrix(0.9650 0 0 1 1130.28 1576.30)" font-size="41.86" class="r" fill="#111">18,2</text>
<text transform="matrix(0.9650 0 0 1 1368.90 1576.30)" font-size="41.86" class="r" fill="#111">230</text>
<text transform="matrix(0.9650 0 0 1 1613.58 1576.30)" font-size="41.86" class="r" fill="#111">11</text>
<text transform="matrix(0.9650 0 0 1 892.16 1654.70)" font-size="41.86" class="r" fill="#111">1035</text>
<text transform="matrix(0.9650 0 0 1 1130.28 1654.70)" font-size="41.86" class="r" fill="#111">16,7</text>
<text transform="matrix(0.9650 0 0 1 1368.90 1654.70)" font-size="41.86" class="r" fill="#111">400</text>
<text transform="matrix(0.9650 0 0 1 1606.47 1654.70)" font-size="41.86" class="r" fill="#111">4,3</text>
<text transform="matrix(0.9650 0 0 1 892.16 1731.00)" font-size="41.86" class="r" fill="#111">1418</text>
<text transform="matrix(0.9650 0 0 1 1130.28 1731.00)" font-size="41.86" class="r" fill="#111">25,3</text>
<text transform="matrix(0.9650 0 0 1 1368.90 1731.00)" font-size="41.86" class="r" fill="#111">230</text>
<text transform="matrix(0.9650 0 0 1 1595.23 1731.00)" font-size="41.86" class="r" fill="#111">15,8</text>
<text transform="matrix(0.9650 0 0 1 892.16 1809.50)" font-size="41.86" class="r" fill="#111">1343</text>
<text transform="matrix(0.9650 0 0 1 1130.28 1809.50)" font-size="41.86" class="r" fill="#111">21,6</text>
<text transform="matrix(0.9650 0 0 1 1368.90 1809.50)" font-size="41.86" class="r" fill="#111">400</text>
<text transform="matrix(0.9650 0 0 1 1606.47 1809.50)" font-size="41.86" class="r" fill="#111">6,0</text>
<text transform="matrix(0.9650 0 0 1 450.18 1613.80)" font-size="41.86" class="r" fill="#111">14</text>
<text transform="matrix(0.9650 0 0 1 653.00 1613.80)" font-size="41.86" class="r" fill="#111">1 1/4"</text>
<text transform="matrix(0.9650 0 0 1 1799.37 1613.80)" font-size="41.86" class="r" fill="#111">1,5</text>
<text transform="matrix(0.9650 0 0 1 1971.47 1613.80)" font-size="41.86" class="r" fill="#111">2</text>
<text transform="matrix(0.9650 0 0 1 2142.10 1613.80)" font-size="41.86" class="r" fill="#111">185</text>
<text transform="matrix(0.9650 0 0 1 2385.33 1613.80)" font-size="41.86" class="r" fill="#111">85</text>
<text transform="matrix(0.9650 0 0 1 450.18 1768.50)" font-size="41.86" class="r" fill="#111">21</text>
<text transform="matrix(0.9650 0 0 1 653.00 1768.50)" font-size="41.86" class="r" fill="#111">1 1/4"</text>
<text transform="matrix(0.9650 0 0 1 1799.37 1768.50)" font-size="41.86" class="r" fill="#111">2,2</text>
<text transform="matrix(0.9650 0 0 1 1971.47 1768.50)" font-size="41.86" class="r" fill="#111">3</text>
<text transform="matrix(0.9650 0 0 1 2142.10 1768.50)" font-size="41.86" class="r" fill="#111">185</text>
<text transform="matrix(0.9650 0 0 1 2374.10 1768.50)" font-size="41.86" class="r" fill="#111">128</text>
</svg>
</body></html>
